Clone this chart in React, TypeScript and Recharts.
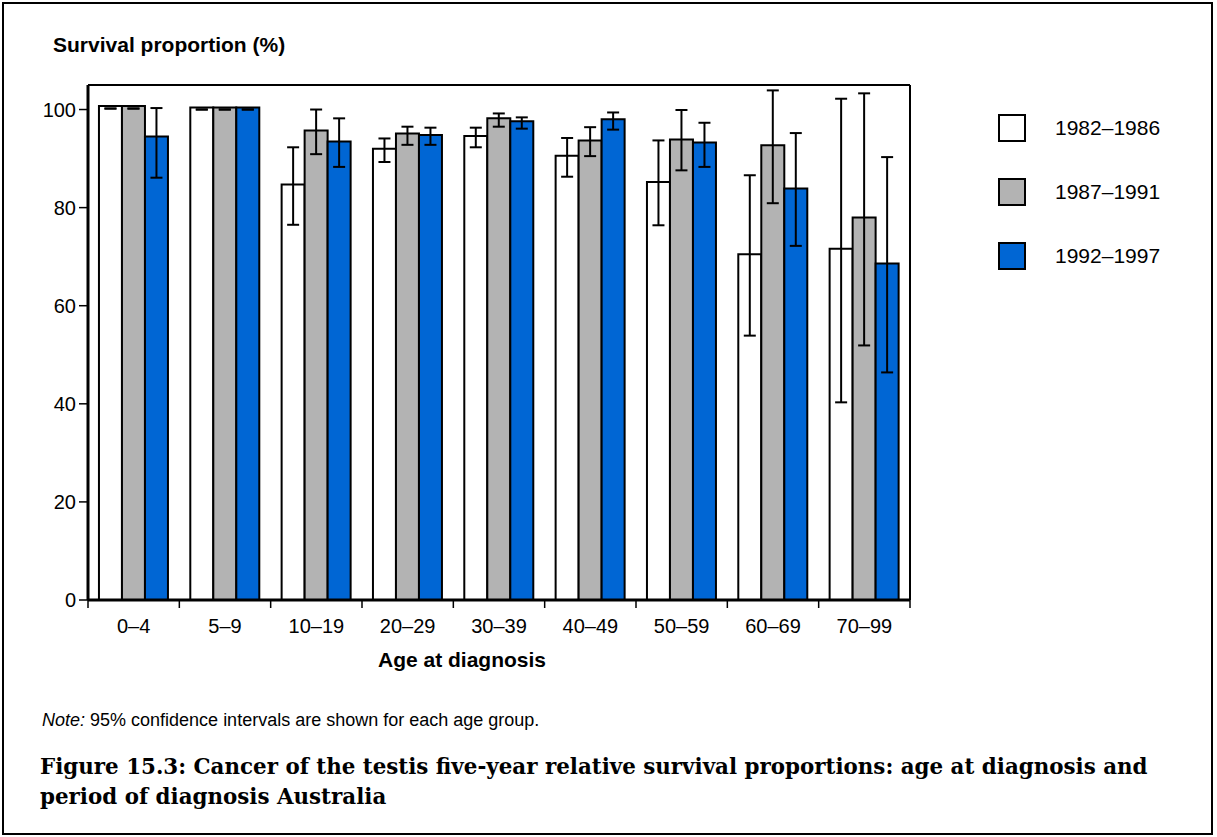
import React from 'react';
import { BarChart, Bar, XAxis, YAxis, ErrorBar, ReferenceLine } from 'recharts';

const categories = ['0–4', '5–9', '10–19', '20–29', '30–39', '40–49', '50–59', '60–69', '70–99'];
const periods = ['1982–1986', '1987–1991', '1992–1997'];
const colors = ['#ffffff', '#b3b3b3', '#0066d4'];
const yTicks = [0, 20, 40, 60, 80, 100];
const yMax = 105;

// Survival proportion (%) per period
const p1Values = [100.7, 100.4, 84.7, 92.0, 94.6, 90.6, 85.2, 70.5, 71.6];
const p1Low = [100.2, 100.0, 76.5, 89.3, 92.3, 86.3, 76.4, 53.9, 40.3];
const p1High = [100.2, 100.0, 92.3, 94.1, 96.3, 94.2, 93.7, 86.6, 102.2];

const p2Values = [100.7, 100.4, 95.7, 95.1, 98.2, 93.7, 93.9, 92.7, 78.0];
const p2Low = [100.2, 100.0, 90.9, 92.8, 96.5, 90.5, 87.6, 80.9, 51.9];
const p2High = [100.2, 100.0, 100.0, 96.5, 99.2, 96.4, 99.9, 103.9, 103.3];

const p3Values = [94.5, 100.4, 93.5, 94.8, 97.6, 98.0, 93.3, 83.9, 68.6];
const p3Low = [86.1, 100.0, 88.3, 92.8, 96.1, 95.9, 88.3, 72.2, 46.4];
const p3High = [100.3, 100.0, 98.2, 96.3, 98.4, 99.4, 97.3, 95.2, 90.3];

const seriesValues = [p1Values, p2Values, p3Values];
const seriesLow = [p1Low, p2Low, p3Low];
const seriesHigh = [p1High, p2High, p3High];

const data = categories.map((age, i) => {
  const row: Record<string, any> = { age };
  seriesValues.forEach((vals, s) => {
    row['s' + s] = vals[i];
    row['e' + s] = [vals[i] - seriesLow[s][i], seriesHigh[s][i] - vals[i]];
  });
  return row;
});

const SANS = '"Liberation Sans", Arial, Helvetica, sans-serif';
const SERIF = '"DejaVu Serif", "Liberation Serif", serif';

const XTick = (props: any) => {
  const { x, y, payload, index, visibleTicksCount } = props;
  const half = payload && payload.offset ? payload.offset : 0;
  return (
    <g>
      <line x1={x - half} x2={x - half} y1={y} y2={y + 8} stroke="#000" strokeWidth={1.5} />
      {index === visibleTicksCount - 1 && (
        <line x1={x + half} x2={x + half} y1={y} y2={y + 8} stroke="#000" strokeWidth={1.5} />
      )}
      <text x={x} y={y + 33} textAnchor="middle" fontSize={20} fontFamily={SANS} fill="#000">
        {payload.value}
      </text>
    </g>
  );
};

export default function App() {
  return (
    <div style={{ position: 'absolute', left: 0, top: 0, width: 1217, height: 837, background: '#fff', fontFamily: SANS }}>
      <div
        style={{
          position: 'absolute', left: 2, top: 2, width: 1211, height: 833,
          border: '2px solid #000', boxSizing: 'border-box',
        }}
      />
      <div style={{ position: 'absolute', left: 53, top: 33, fontSize: 21, fontWeight: 'bold', lineHeight: '24px', color: '#000' }}>
        Survival proportion (%)
      </div>
      <div style={{ position: 'absolute', left: 0, top: 0 }}>
        <BarChart
          width={1217}
          height={680}
          data={data}
          margin={{ top: 85, right: 307, bottom: 0, left: 0 }}
          barCategoryGap="12%"
          barGap={0}
        >
          <XAxis
            dataKey="age"
            height={80}
            tickSize={0}
            tickMargin={0}
            tickLine={false}
            tick={<XTick />}
            interval={0}
            axisLine={{ stroke: '#000', strokeWidth: 3 }}
          />
          <YAxis
            width={88}
            domain={[0, yMax]}
            ticks={yTicks}
            interval={0}
            tickSize={9}
            tickMargin={3}
            tick={{ fontSize: 20, fontFamily: SANS, fill: '#000' }}
            tickLine={{ stroke: '#000', strokeWidth: 1.5 }}
            axisLine={{ stroke: '#000', strokeWidth: 3 }}
            allowDataOverflow
          />
          <ReferenceLine y={yMax} stroke="#000" strokeWidth={2} />
          <ReferenceLine x={categories[categories.length - 1]} position="end" stroke="#000" strokeWidth={2} />
          {periods.map((p, s) => (
            <Bar
              key={p}
              dataKey={'s' + s}
              name={p}
              fill={colors[s]}
              stroke="#000"
              strokeWidth={2}
              isAnimationActive={false}
            >
              <ErrorBar dataKey={'e' + s} width={6} stroke="#000" strokeWidth={2} direction="y" />
            </Bar>
          ))}
        </BarChart>
      </div>
      {periods.map((p, s) => (
        <div key={p} style={{ position: 'absolute', left: 998, top: 114 + s * 64, height: 28, display: 'flex', alignItems: 'center' }}>
          <div style={{ width: 28, height: 28, background: colors[s], border: '2.5px solid #000', boxSizing: 'border-box' }} />
          <span style={{ marginLeft: 29, fontSize: 21, color: '#000' }}>{p}</span>
        </div>
      ))}
      <div style={{ position: 'absolute', left: 378, top: 648, fontSize: 21, fontWeight: 'bold', lineHeight: '24px', color: '#000' }}>
        Age at diagnosis
      </div>
      <div style={{ position: 'absolute', left: 42, top: 709, fontSize: 18, lineHeight: '22px', color: '#000' }}>
        <i>Note:</i> 95% confidence intervals are shown for each age group.
      </div>
      <div style={{ position: 'absolute', left: 40, top: 752, fontSize: 21.4, fontWeight: 'bold', lineHeight: '30px', fontFamily: SERIF, color: '#000', whiteSpace: 'nowrap' }}>
        Figure 15.3: Cancer of the testis five-year relative survival proportions: age at diagnosis and
        <br />
        period of diagnosis Australia
      </div>
    </div>
  );
}
